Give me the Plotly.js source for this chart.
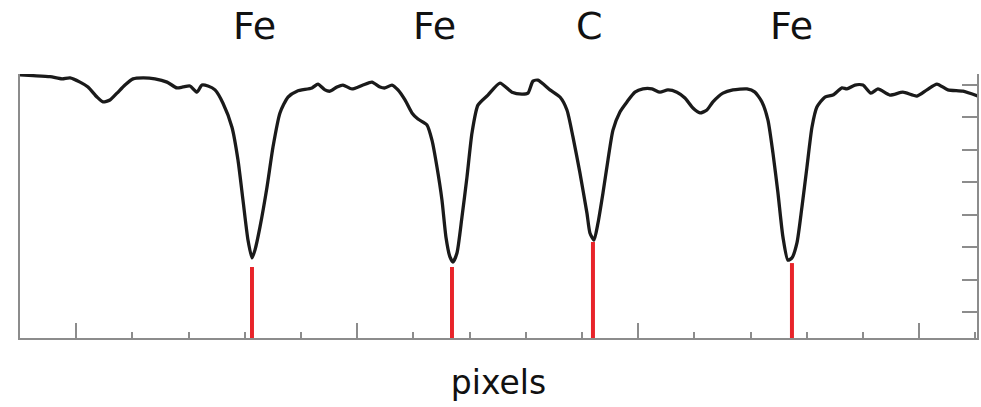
<!DOCTYPE html>
<html>
<head>
<meta charset="utf-8">
<script src="https://cdn.plot.ly/plotly-3.0.1.min.js"></script>
<style>
  html, body { margin: 0; padding: 0; background: #fff; }
  #chart { width: 981px; height: 407px; }
</style>
</head>
<body>
<div id="chart"></div>
<script>
// Detector pixel position along the dispersion axis
const pixels = [
  0, 2.31, 5.34, 7.47, 8.90, 10.68, 12.10, 13.70, 14.77, 16.01, 17.26, 18.68, 20.11, 21.89,
  24.02, 26.16, 27.94, 29.00, 30.25, 31.49, 32.38, 33.45, 34.70, 36.12, 37.72, 38.79, 39.68,
  40.57, 41.28, 41.81, 42.70, 43.95, 45.02, 46.26, 47.69, 49.29, 51.96, 53.02, 54.27, 55.16,
  56.41, 57.47, 59.07, 61.03, 62.63, 64.06, 64.95, 66.19, 67.26, 68.51, 69.75, 70.82, 72.42,
  73.31, 74.20, 75.09, 75.80, 76.51, 77.05, 77.76, 78.65, 79.54, 80.43, 81.49, 83.27, 85.41,
  87.54, 89.32, 90.39, 91.28, 92.17, 94.31, 96.09, 97.33, 98.40, 99.64, 100.89, 101.42,
  102.14, 102.85, 103.74, 104.63, 105.52, 106.76, 108.01, 109.43, 110.85, 112.46, 113.88,
  115.30, 116.90, 118.33, 119.75, 121.00, 122.24, 123.31, 125.09, 126.87, 129.36, 130.78,
  132.03, 133.10, 133.99, 134.88, 135.77, 136.65, 137.37, 138.26, 139.15, 140.04, 140.93,
  141.81, 143.24, 144.66, 146.26, 147.15, 148.58, 150.00, 151.42, 152.67, 154.80, 157.12,
  159.61, 161.39, 163.17, 165.12, 167.79, 170.46
];

// Normalised flux at each pixel
const flux = [
  1.031, 1.029, 1.026, 1.019, 1.022, 1.009, 0.994, 0.963, 0.948, 0.954, 0.975, 1.000, 1.019, 1.022,
  1.019, 1.009, 0.991, 0.994, 0.997, 0.978, 1.000, 0.997, 0.985, 0.944, 0.870, 0.769, 0.645,
  0.522, 0.467, 0.491, 0.562, 0.685, 0.809, 0.914, 0.963, 0.981, 0.991, 1.003, 0.985, 0.981,
  0.994, 1.000, 0.988, 1.000, 1.009, 0.994, 0.991, 1.000, 0.985, 0.954, 0.914, 0.895, 0.877,
  0.830, 0.747, 0.645, 0.531, 0.470, 0.454, 0.482, 0.593, 0.716, 0.852, 0.938, 0.969, 1.006,
  0.978, 0.972, 0.975, 1.012, 1.015, 0.985, 0.963, 0.923, 0.840, 0.729, 0.605, 0.544,
  0.522, 0.574, 0.667, 0.769, 0.861, 0.917, 0.948, 0.978, 0.988, 0.988, 0.978,
  0.985, 0.978, 0.960, 0.929, 0.914, 0.923, 0.948, 0.975, 0.985, 0.988, 0.978,
  0.948, 0.892, 0.790, 0.667, 0.531, 0.460, 0.467, 0.513, 0.624, 0.747, 0.870,
  0.932, 0.963, 0.969, 0.991, 0.988, 1.000, 1.000, 0.975, 0.988, 0.969, 0.978,
  0.966, 0.985, 1.003, 0.985, 0.981, 0.966
];

// Identified absorption lines: element, line position, marker height
const lineElements = ["Fe", "Fe", "C", "Fe"];
const linePixels = [41.28, 76.87, 101.96, 137.37];
const lineDepths = [0.439, 0.439, 0.516, 0.451];
// Label positions above the plot
const labelPixels = [41.64, 73.84, 101.42, 137.37];

const yMin = 0.22, yMax = 1.034;
const xMin = 0, xMax = 170.3;

// Build the red line markers as separate vertical segments
const markX = [], markY = [];
linePixels.forEach((p, i) => {
  markX.push(p, p, null);
  markY.push(yMin, lineDepths[i], null);
});

const traces = [
  {
    x: markX, y: markY, mode: "lines", type: "scatter",
    line: { color: "#e8242a", width: 4 },
    hoverinfo: "skip", showlegend: false
  },
  {
    x: pixels, y: flux, mode: "lines", type: "scatter",
    line: { color: "#1a1a1a", width: 3.3, shape: "spline", smoothing: 0.6 },
    showlegend: false
  }
];

const annotations = lineElements.map((el, i) => ({
  x: labelPixels[i], xref: "x",
  y: 1.183, yref: "paper",
  text: el, showarrow: false,
  xanchor: "center", yanchor: "middle",
  font: { family: "DejaVu Sans", size: 38, color: "#111" }
}));

const axisGray = "#8c8c8c";

const layout = {
  width: 981, height: 407,
  margin: { l: 20, r: 4, t: 74, b: 69 },
  paper_bgcolor: "#fff", plot_bgcolor: "#fff",
  font: { family: "DejaVu Sans", color: "#111" },
  showlegend: false,
  xaxis: {
    range: [xMin, xMax],
    showgrid: false, zeroline: false,
    showline: true, linecolor: axisGray, linewidth: 2,
    ticks: "inside", ticklen: 15, tickwidth: 2, tickcolor: axisGray,
    tick0: 10, dtick: 50,
    minor: { dtick: 10, tick0: 0, ticks: "inside", ticklen: 6, tickwidth: 2, tickcolor: axisGray, showgrid: false },
    showticklabels: false,
    title: { text: "pixels", font: { family: "DejaVu Sans", size: 33, color: "#111" }, standoff: 32 },
    automargin: false
  },
  yaxis: {
    range: [yMin, yMax],
    side: "right",
    showgrid: false, zeroline: false,
    showline: true, mirror: true, linecolor: axisGray, linewidth: 2,
    ticks: "inside", ticklen: 15, tickwidth: 2, tickcolor: axisGray,
    tick0: 0.3, dtick: 0.1,
    showticklabels: false,
    automargin: false
  },
  annotations: annotations
};

Plotly.newPlot("chart", traces, layout, { staticPlot: true, displayModeBar: false });
</script>
</body>
</html>
